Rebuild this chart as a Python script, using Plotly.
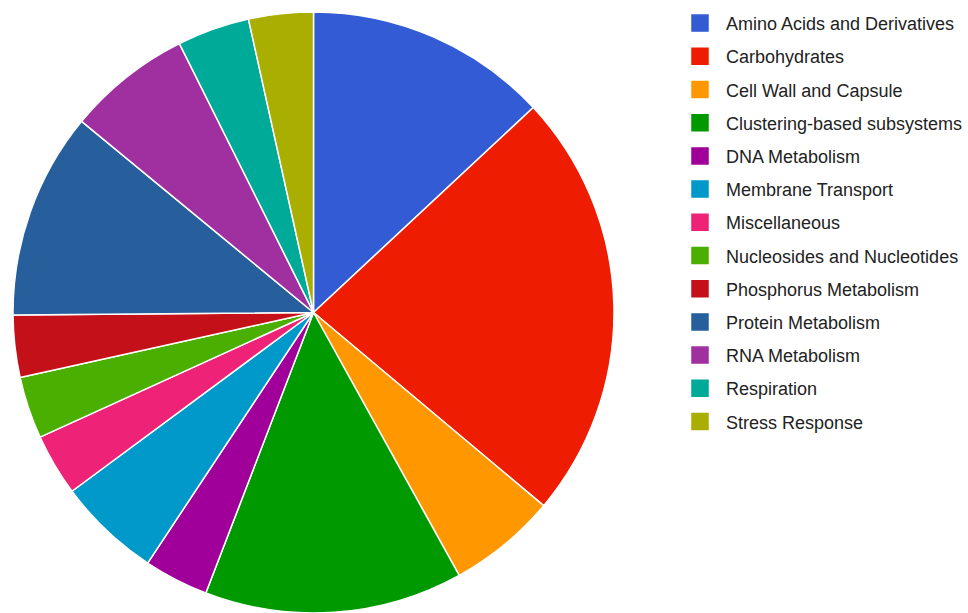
import plotly.graph_objects as go

# Subsystem categories and their share of annotated features
categories = [
    "Amino Acids and Derivatives",
    "Carbohydrates",
    "Cell Wall and Capsule",
    "Clustering-based subsystems",
    "DNA Metabolism",
    "Membrane Transport",
    "Miscellaneous",
    "Nucleosides and Nucleotides",
    "Phosphorus Metabolism",
    "Protein Metabolism",
    "RNA Metabolism",
    "Respiration",
    "Stress Response",
]
counts = [47, 83, 21, 50, 12.5, 20, 12, 12, 12, 40, 24, 14, 12.5]
colors = [
    "#335cd4", "#ee1c00", "#ff9800", "#009900", "#a00099", "#0099c9",
    "#ee2277", "#4aaf00", "#c41018", "#265f9c", "#a030a0", "#00aa99",
    "#aaae00",
]

W, H = 968, 613
# pie domain in pixels (left, right, top, bottom)
x0, x1, y0, y1 = 13, 614, 12, 613

fig = go.Figure()
fig.add_trace(go.Pie(
    labels=categories,
    values=counts,
    sort=False,
    direction="clockwise",
    rotation=0,
    marker=dict(colors=colors, line=dict(color="white", width=1.5)),
    textinfo="none",
    hoverinfo="label+percent",
    showlegend=False,
    domain=dict(x=[x0 / W, x1 / W], y=[(H - y1) / H, (H - y0) / H]),
))

# Legend entries: one square swatch per category
for name, col in zip(categories, colors):
    fig.add_trace(go.Scatter(
        x=[None], y=[None], mode="markers",
        name="\u2005\u200a" + name, legendgroup=name,
        marker=dict(symbol="square", size=16, color=col,
                    line=dict(width=1.5, color=col)),
        hoverinfo="skip", showlegend=True,
    ))

fig.update_layout(
    width=W, height=H,
    margin=dict(l=0, r=0, t=0, b=0),
    paper_bgcolor="white", plot_bgcolor="white",
    xaxis=dict(visible=False), yaxis=dict(visible=False),
    font=dict(family="Arial, Liberation Sans, sans-serif", color="#222222"),
    legend=dict(
        x=1, y=0.992, xanchor="right", yanchor="top",
        font=dict(size=18, color="#222222"),
        tracegroupgap=6.8, itemsizing="trace",
        bgcolor="rgba(0,0,0,0)", borderwidth=0,
    ),
)

fig.write_html("out.html")
